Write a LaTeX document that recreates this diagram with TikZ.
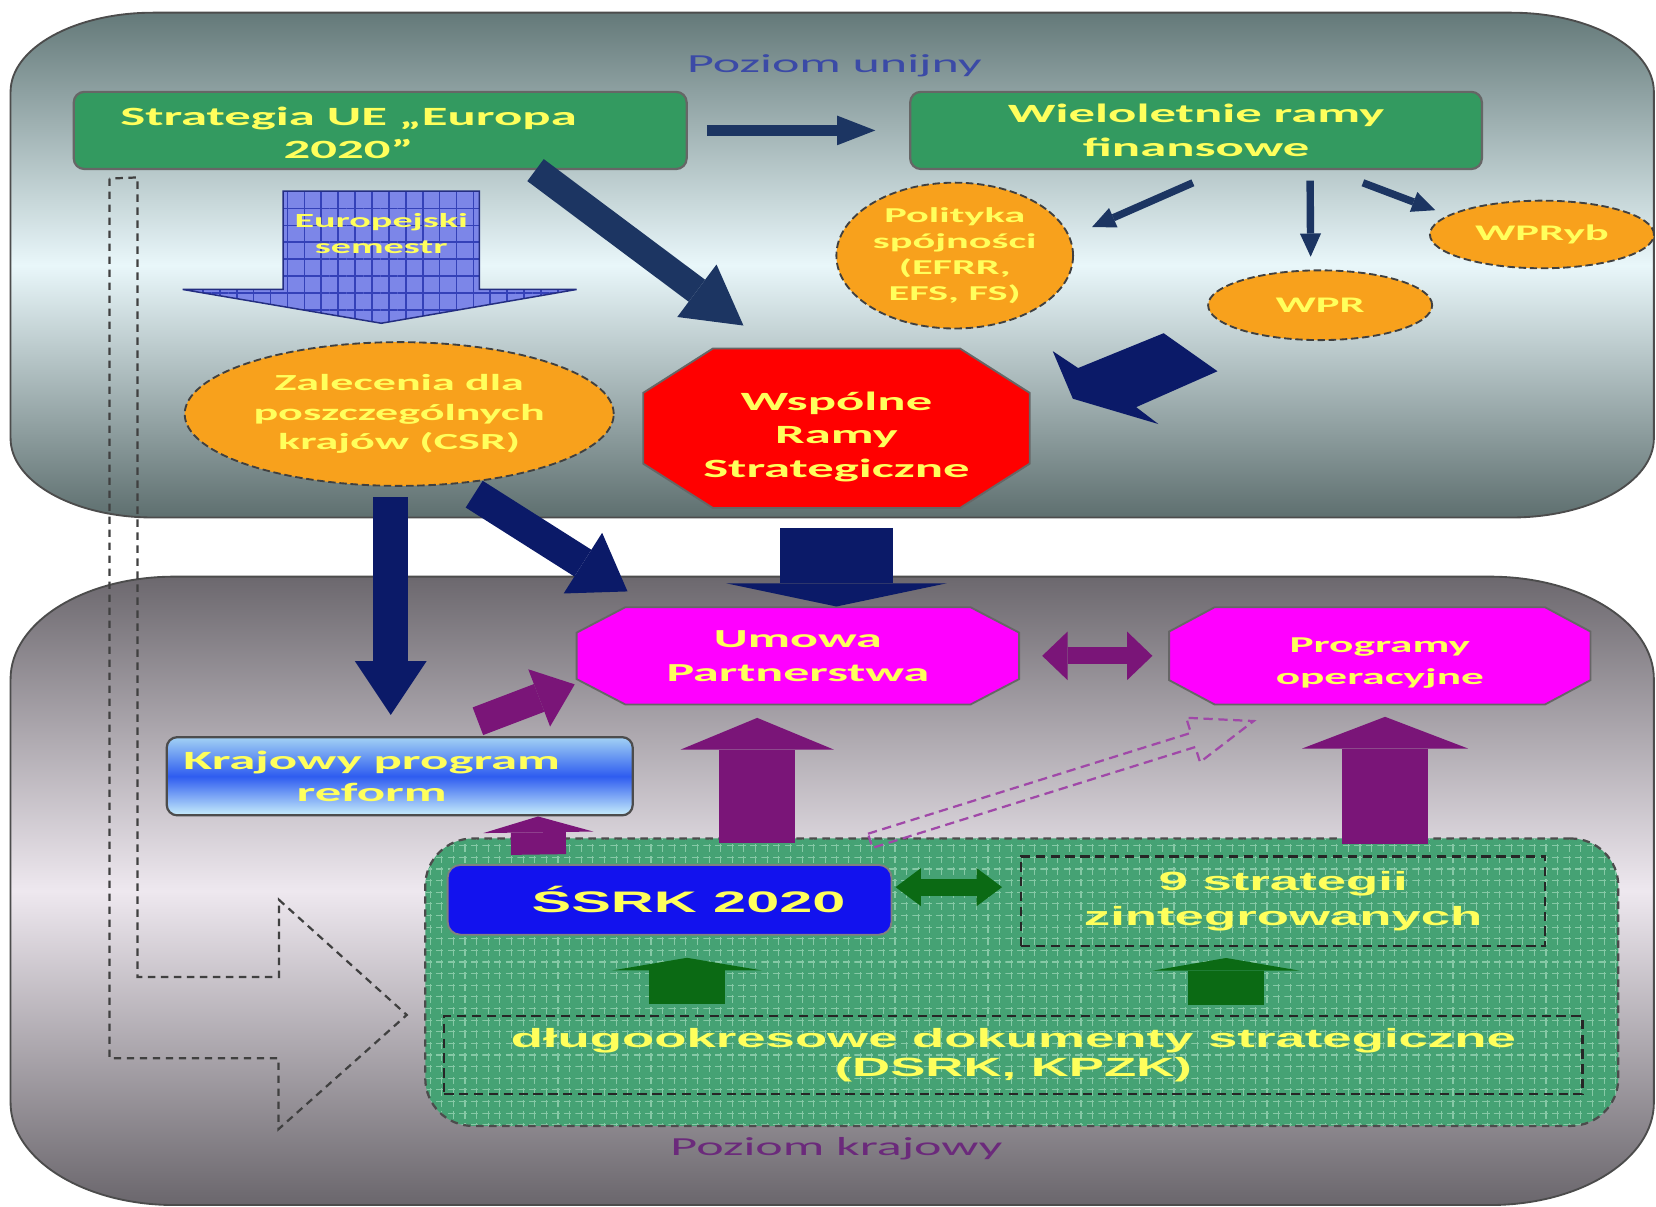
\documentclass[tikz,border=0pt]{standalone}
\usepackage{fontspec}
\setmainfont{Carlito}[FakeStretch=2]
\newfontfamily\arialfont{Liberation Sans}[FakeStretch=2]
\usetikzlibrary{arrows.meta,calc,patterns.meta,shapes.geometric}

\definecolor{unitop}{HTML}{647979}
\definecolor{unimid}{HTML}{E9F7FA}
\definecolor{unibot}{HTML}{5E6F6F}
\definecolor{krtop}{HTML}{6C686E}
\definecolor{krmid}{HTML}{EEE8EF}
\definecolor{krbot}{HTML}{6A666C}
\definecolor{boxgreen}{HTML}{339A60}
\definecolor{txtyellow}{HTML}{FFFF5C}
\definecolor{slatenavy}{HTML}{1C3562}
\definecolor{deepnavy}{HTML}{0B1A68}
\definecolor{orangefill}{HTML}{F8A11C}
\definecolor{semblue}{HTML}{7C86E8}
\definecolor{semgrid}{HTML}{3441B8}
\definecolor{areagreen}{HTML}{45A274}
\definecolor{areagrid}{HTML}{86C9A6}
\definecolor{purplearrow}{HTML}{7A1578}
\definecolor{dashpurple}{HTML}{A048A8}
\definecolor{greenarrow}{HTML}{0B6A14}
\definecolor{ssrkblue}{HTML}{1212EE}
\definecolor{unititle}{HTML}{3B4AA6}
\definecolor{krtitle}{HTML}{6B2A7B}
\definecolor{krptop}{HTML}{A2D2F4}
\definecolor{krpmid}{HTML}{2E5CF0}
\definecolor{krpbot}{HTML}{C8EEFB}
\definecolor{octred}{RGB}{255,0,0}
\definecolor{octmagenta}{RGB}{255,0,255}

\newcommand{\fsz}[2]{\bfseries\fontsize{#1}{#2}\selectfont}
% style, centre x, centre y, half width, half height, cut x, cut y
\newcommand{\octshape}[7]{\path[#1] ({#2-#4+#6},{#3-#5}) -- ({#2+#4-#6},{#3-#5}) -- ({#2+#4},{#3-#5+#7})
    -- ({#2+#4},{#3+#5-#7}) -- ({#2+#4-#6},{#3+#5}) -- ({#2-#4+#6},{#3+#5}) -- ({#2-#4},{#3+#5-#7})
    -- ({#2-#4},{#3-#5+#7}) -- cycle;}

\begin{document}
\begin{tikzpicture}[x=0.01cm,y=-0.01cm]
\tikzset{
    gbox/.style={draw=black!60, line width=0.6pt, fill=boxgreen, rounded corners=0.1cm},
    ytxt/.style={text=txtyellow, align=center, inner sep=0pt, font=\fsz{7.1}{9}},
    oval/.style={ellipse, draw=black!75, line width=0.5pt, dash pattern=on 2pt off 1pt, fill=orangefill},
    octo/.style={draw=black!60, line width=0.5pt},
    dbox/.style={draw=black!85, line width=0.6pt, dash pattern=on 2.5pt off 1.5pt},
    block/.style n args={4}{draw=#1, line width=#2, -{Triangle[width=#3, length=#4, line width=0pt]}},
    twoway/.style n args={4}{draw=#1, line width=#2, {Triangle[width=#3, length=#4, line width=0pt]}-{Triangle[width=#3, length=#4, line width=0pt]}},
    title/.style={inner sep=0pt, font=\fontsize{7}{8}\selectfont}}

\fill[white] (0,0) rectangle (1568,1142);
\useasboundingbox (0,0) rectangle (1568,1142);

\shadedraw[top color=unitop, bottom color=unibot, middle color=unimid, draw=black!70, line width=0.5pt]
    (145,12) -- (1431,12) arc[start angle=-90, end angle=0, x radius=135, y radius=75]
    -- (1566,415) arc[start angle=0, end angle=90, x radius=135, y radius=75]
    -- (145,490) arc[start angle=90, end angle=180, x radius=135, y radius=75]
    -- (10,87) arc[start angle=180, end angle=270, x radius=135, y radius=75] -- cycle;
\shadedraw[top color=krtop, bottom color=krbot, middle color=krmid, draw=black!70, line width=0.5pt]
    (165,546) -- (1411,546) arc[start angle=-90, end angle=0, x radius=155, y radius=97]
    -- (1566,1044) arc[start angle=0, end angle=90, x radius=155, y radius=97]
    -- (165,1141) arc[start angle=90, end angle=180, x radius=155, y radius=97]
    -- (10,643) arc[start angle=180, end angle=270, x radius=155, y radius=97] -- cycle;

\node[title, text=unititle] (unia) at (790,62) {Poziom unijny};
\node[gbox, minimum width=5.8cm, minimum height=0.73cm] (eu) at (360,123.5) {};
\node[ytxt] (eutxt) at ([xshift=-0.3cm,yshift=-0.025cm]eu.center) {Strategia UE „Europa\\2020”};
\node[gbox, ytxt, minimum width=5.41cm, minimum height=0.73cm] (wrf) at (1132.5,123.5) {Wieloletnie ramy\\finansowe};

\node[oval, ytxt, font=\fsz{5.7}{7}, minimum width=2.24cm, minimum height=1.38cm] (pol) at (904,242) {Polityka\\spójności\\(EFRR,\\EFS, FS)};
\node[oval, ytxt, font=\fsz{6}{7}, minimum width=2.12cm, minimum height=0.66cm] (wpr) at (1250,289) {WPR};
\node[oval, ytxt, font=\fsz{6}{7}, minimum width=2.12cm, minimum height=0.64cm] (wpryb) at (1460,222) {WPRyb};
\node[oval, ytxt, font=\fsz{6.2}{8}, minimum width=4.06cm, minimum height=1.36cm] (csr) at (378,392) {Zalecenia dla\\poszczególnych\\krajów (CSR)};
\octshape{octo, fill=octred}{792}{405.5}{183}{75.5}{66}{42}
\node[ytxt, minimum width=3.66cm, minimum height=1.51cm] (wrs) at (792,413.5) {Wspólne\\Ramy\\Strategiczne};

\octshape{octo, fill=octmagenta}{755.5}{621}{209.5}{46}{46}{24}
\node[ytxt, font=\fsz{7}{9.1}, minimum width=4.19cm, minimum height=0.92cm] (umowa) at (755.5,621) {Umowa\\Partnerstwa};
\octshape{octo, fill=octmagenta}{1306.5}{621}{199.5}{46}{43}{23}
\node[ytxt, font=\fsz{6.1}{8.5}, minimum width=3.99cm, minimum height=0.92cm] (prog) at (1306.5,628) {Programy\\operacyjne};
\node[draw=black!70, line width=0.6pt, rounded corners=0.1cm, top color=krptop, bottom color=krpbot, middle color=krpmid,
    minimum width=4.41cm, minimum height=0.74cm] (krp) at (378.5,735) {};
\node[ytxt, font=\fsz{7.1}{8.5}] (krptxt) at ([xshift=-0.265cm]krp.center) {Krajowy program\\reform};

\node[draw=black!70, line width=0.6pt, dash pattern=on 2pt off 1.5pt, rounded corners=0.45cm, preaction={fill=areagreen},
    pattern={Hatch[angle=0, distance=0.11cm, line width=0.3pt]}, pattern color=areagrid,
    minimum width=11.29cm, minimum height=2.72cm] (area) at (967.5,930) {};
\node[draw=black!50, line width=0.5pt, fill=ssrkblue, rounded corners=0.12cm, minimum width=4.2cm, minimum height=0.66cm] (ssrk) at (634,852) {};
\node[ytxt, font=\arialfont\bfseries\fontsize{8}{9}\selectfont] (ssrktxt) at ([xshift=0.18cm]ssrk.center) {ŚSRK 2020};
\node[dbox, ytxt, font=\arialfont\bfseries\fontsize{7.1}{9.4}\selectfont, minimum width=4.96cm, minimum height=0.85cm] (strat9) at (1215,853.5) {9 strategii\\zintegrowanych};
\node[dbox, ytxt, font=\arialfont\bfseries\fontsize{7.1}{8}\selectfont, minimum width=10.77cm, minimum height=0.74cm] (dsrk) at (959.5,999) {długookresowe dokumenty strategiczne\\(DSRK, KPZK)};
\node[title, text=krtitle] (kraj) at (792,1088) {Poziom krajowy};

\path ([shift={(1,20)}]eu.south) coordinate (st);
\path[draw=semgrid!70!black, line width=0.4pt, preaction={fill=semblue},
    pattern={Hatch[angle=0, distance=0.16cm, line width=0.45pt]}, pattern color=semgrid]
    (st) ++(-93,0) -- ++(186,0) -- ++(0,93) -- ++(92,0) -- ++(-185,32) -- ++(-188,-32) -- ++(95,0) -- cycle;
\node[ytxt, font=\fsz{5.4}{6.8}] (sem) at ([shift={(0,40)}]st) {Europejski\\semestr};

\path ([shift={(35,8)}]eu.south west) coordinate (bt);
\draw[black!75, line width=0.6pt, dash pattern=on 2pt off 1.5pt] (bt) -- ++(0,833) -- ++(160,0) -- ++(0,67)
    -- ([shift={(-17,31)}]area.west) -- ++(-121,-109) -- ++(0,73) -- ++(-134,0) -- ++(0,-757) -- cycle;

\draw[block={slatenavy}{0.1cm}{0.28cm}{0.36cm}, shorten <=0.18cm, shorten >=0.32cm] (eu) -- (wrf);
\draw[block={slatenavy}{0.26cm}{0.62cm}{0.55cm}] ([xshift=1.47cm]eu.south) -- ([xshift=-0.88cm,yshift=0.29cm]wrs.north);
\draw[block={slatenavy}{0.07cm}{0.2cm}{0.22cm}] ([shift={(-3,12)}]wrf.south) -- ([shift={(130,-27)}]pol.center);
\draw[block={slatenavy}{0.07cm}{0.2cm}{0.22cm}] ([shift={(108,10)}]wrf.south) -- ([shift={(-9,-12)}]wpr.north);
\draw[block={slatenavy}{0.07cm}{0.2cm}{0.22cm}] ([shift={(158,12)}]wrf.south) -- ([shift={(6,-23)}]wpryb.west);

\path ([shift={(40,-36)}]wrs.east) coordinate (wt);
\fill[deepnavy] (wt) -- ++(-19,-45) -- ++(24,16) -- ++(81,-33) -- ++(51,36) -- ++(-77,34) -- ++(21,16) -- cycle;

\draw[block={deepnavy}{0.33cm}{0.68cm}{0.51cm}] ([shift={(-8,10)}]csr.south) -- ([shift={(-8.5,-20)}]krp.north);
\draw[block={deepnavy}{0.3cm}{0.68cm}{0.5cm}] ([shift={(71,7)}]csr.south) -- ([shift={(49,-61)}]umowa.west);
\draw[block={deepnavy}{1.07cm}{2.09cm}{0.22cm}] ([shift={(0,10)}]wrs.south) -- ([shift={(36.5,0)}]umowa.north);

\draw[twoway={purplearrow}{0.16cm}{0.46cm}{0.24cm}, shorten <=0.21cm, shorten >=0.15cm] (umowa.east) -- (umowa.east -| prog.west);
\draw[block={purplearrow}{0.28cm}{0.58cm}{0.36cm}] ([shift={(74,-14)}]krp.north) -- ([shift={(-1,27)}]umowa.west);
\draw[block={purplearrow}{0.52cm}{1.04cm}{0.15cm}] ([shift={(-124,-9)}]ssrk.north) -- ([shift={(131,0)}]krp.south);
\draw[block={purplearrow}{0.72cm}{1.45cm}{0.3cm}] ([shift={(83,-20)}]ssrk.north) -- ([shift={(-38.5,12)}]umowa.south);
\draw[block={purplearrow}{0.81cm}{1.57cm}{0.3cm}] ([shift={(96.5,-11)}]strat9.north) -- ([shift={(5,4)}]prog.south);

\path ([shift={(-21,-22)}]ssrk.north east) coordinate (da) ([shift={(-119.5,8)}]prog.south) coordinate (db);
\coordinate (hb) at ($(db)!0.6cm!(da)$);
\draw[dashpurple, line width=0.6pt, dash pattern=on 2.5pt off 1.5pt]
    ($(da)!0.07cm!90:(db)$) -- ($(hb)!0.07cm!90:(db)$) -- ($(hb)!0.22cm!90:(db)$) -- (db)
    -- ($(hb)!0.22cm!-90:(db)$) -- ($(hb)!0.07cm!-90:(db)$) -- ($(da)!0.07cm!-90:(db)$) -- cycle;

\draw[twoway={greenarrow}{0.16cm}{0.36cm}{0.24cm}] ([shift={(3,-12)}]ssrk.east) -- ([shift={(-17,-13.5)}]strat9.west);
\draw[block={greenarrow}{0.71cm}{1.42cm}{0.12cm}] ([shift={(-309,-10)}]dsrk.north) -- ([shift={(16.5,21)}]ssrk.south);
\draw[block={greenarrow}{0.72cm}{1.39cm}{0.12cm}] ([shift={(201.5,-9)}]dsrk.north) -- ([shift={(-54,10)}]strat9.south);
\end{tikzpicture}
\end{document}
